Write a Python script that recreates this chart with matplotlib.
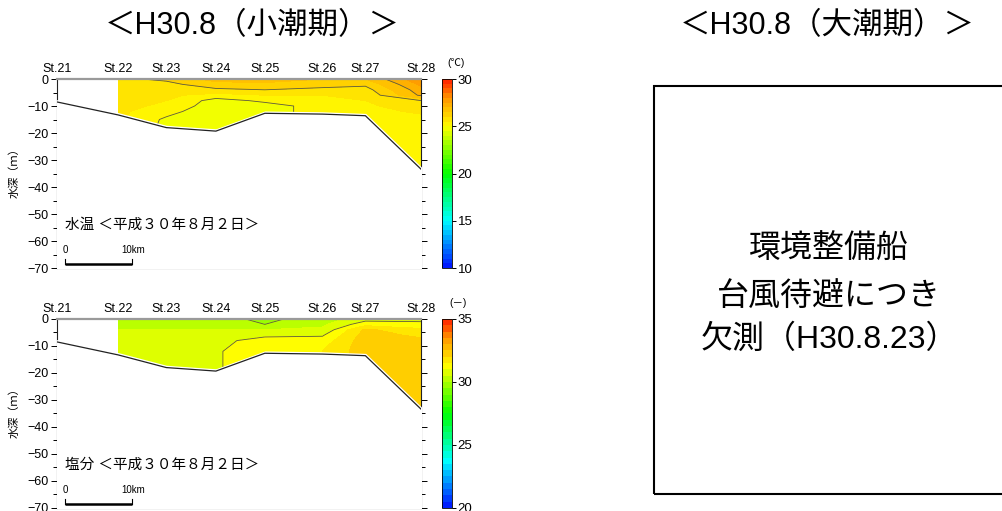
import numpy as np
import matplotlib.pyplot as plt
from matplotlib.colors import LinearSegmentedColormap
from matplotlib.patches import Rectangle

plt.rcParams['font.family'] = ['Liberation Sans', 'Noto Sans CJK JP']

# -----------------------------
# data
# -----------------------------
stations = ["St.21", "St.22", "St.23", "St.24", "St.25", "St.26", "St.27", "St.28"]
dist_km = [0.0, 9.1, 16.3, 23.7, 31.0, 39.6, 46.0, 54.3]
seabed_m = [-8.5, -13.3, -18.0, -19.3, -12.7, -13.0, -13.6, -33.4]

# observed profiles: St.22 .. St.28 (St.21 not sampled)
prof_km = dist_km[1:]
depth_m = [0, -2, -4, -6, -8, -10, -12, -15, -20, -25, -30, -35]

# water temperature (deg C), top -> bottom
temp_st22 = [25.9, 25.9, 25.85, 25.8, 25.7, 25.65, 25.6, 25.6, 25.6, 25.6, 25.6, 25.6]
temp_st23 = [26.1, 25.85, 25.7, 25.6, 25.5, 25.4, 25.2, 24.9, 24.8, 24.8, 24.8, 24.8]
temp_st24 = [26.7, 26.3, 25.9, 25.3, 24.8, 24.7, 24.6, 24.6, 24.6, 24.6, 24.6, 24.6]
temp_st25 = [26.7, 26.4, 26.0, 25.5, 25.1, 24.8, 24.8, 24.8, 24.8, 24.8, 24.8, 24.8]
temp_st26 = [26.5, 26.3, 25.8, 25.5, 25.3, 25.2, 25.2, 25.2, 25.2, 25.2, 25.2, 25.2]
temp_st27 = [26.5, 26.1, 25.8, 25.6, 25.5, 25.4, 25.3, 25.2, 25.2, 25.2, 25.2, 25.2]
temp_st28 = [27.9, 27.6, 27.3, 27.1, 26.0, 25.8, 25.6, 25.3, 25.2, 25.2, 25.2, 25.2]

# salinity, top -> bottom
sal_st22 = [30.2, 30.3, 30.5, 30.6, 30.65, 30.7, 30.7, 30.7, 30.7, 30.7, 30.7, 30.7]
sal_st23 = [30.2, 30.3, 30.5, 30.6, 30.7, 30.75, 30.8, 30.85, 30.85, 30.85, 30.85, 30.85]
sal_st24 = [30.15, 30.3, 30.5, 30.7, 30.85, 30.9, 30.95, 30.95, 30.95, 30.95, 30.95, 30.95]
sal_st25 = [29.9, 30.0, 30.5, 30.9, 31.2, 31.25, 31.3, 31.3, 31.3, 31.3, 31.3, 31.3]
sal_st26 = [30.2, 30.4, 30.6, 30.95, 31.2, 31.4, 31.5, 31.5, 31.5, 31.5, 31.5, 31.5]
sal_st27 = [30.8, 31.3, 32.1, 32.2, 32.3, 32.3, 32.3, 32.3, 32.3, 32.3, 32.3, 32.3]
sal_st28 = [30.8, 31.2, 31.6, 31.9, 32.1, 32.2, 32.2, 32.2, 32.2, 32.2, 32.2, 32.2]

temp = np.array([temp_st22, temp_st23, temp_st24, temp_st25,
                 temp_st26, temp_st27, temp_st28]).T
sal = np.array([sal_st22, sal_st23, sal_st24, sal_st25,
                sal_st26, sal_st27, sal_st28]).T

cmap = LinearSegmentedColormap.from_list(
    "sect",
    [(0.0, "#0010ff"), (0.25, "#00ffff"), (0.5, "#00ff00"),
     (0.75, "#ffff00"), (0.9, "#ff9600"), (1.0, "#ff1e00")])


def draw_section(ax, cax, field, vmin, vmax, line_levels, cticks, unit, unit_xy, label):
    X, Y = np.meshgrid(prof_km, depth_m)
    levels = np.arange(vmin, vmax + 0.01, 0.5)
    cf = ax.contourf(X, Y, field, levels=levels, cmap=cmap, vmin=vmin, vmax=vmax)
    ax.contour(X, Y, field, levels=line_levels, colors="#5a5a40", linewidths=0.6)

    # mask below the seabed, then the seabed line
    ax.fill_between(dist_km, np.array(seabed_m) + 0.6, -75, color="white", zorder=3)
    ax.plot(dist_km, seabed_m, color="#222222", lw=0.9, zorder=4)

    ax.set_xlim(dist_km[0], dist_km[-1])
    ax.set_ylim(-70, 0)
    ax.xaxis.tick_top()
    ax.set_xticks(dist_km)
    ax.set_xticklabels(stations, fontsize=9)
    ax.tick_params(axis="x", length=0, pad=3)
    ax.set_yticks(np.arange(-70, 1, 10))
    ax.set_yticklabels([f"{v}".replace("-", "\u2212") for v in range(-70, 1, 10)], fontsize=9)
    ax.set_yticks(np.arange(-65, 0, 10), minor=True)
    ax.tick_params(axis="y", which="major", length=4, width=0.7, direction="out", pad=2)
    ax.tick_params(axis="y", which="minor", length=3, width=0.7, direction="out",
                   right=True)
    ax.tick_params(axis="y", which="major", right=True)
    for s in ("left", "right", "bottom"):
        ax.spines[s].set_linewidth(0.8)
        ax.spines[s].set_color("#222222")
    ax.spines["top"].set_color("#9a9a9a")
    ax.spines["top"].set_linewidth(1.6)
    ax.set_ylabel("水深（ｍ）", fontsize=8)
    ax.yaxis.set_label_coords(-0.102, 0.52)

    ax.text(1.2, -54, label, fontsize=10.5, ha="left", va="center", zorder=5)
    # 10 km scale bar
    ax.plot([1.2, 11.2], [-68.6, -68.6], color="black", lw=1.8, zorder=5,
            solid_capstyle="butt", clip_on=False)
    ax.plot([1.2, 1.2], [-68.6, -66.8], color="black", lw=0.8, zorder=5)
    ax.plot([11.2, 11.2], [-68.6, -66.8], color="black", lw=0.8, zorder=5)
    ax.text(1.2, -63.3, "0", fontsize=7, ha="center", va="center", zorder=5)
    ax.text(11.3, -63.3, "10km", fontsize=7, ha="center", va="center", zorder=5)

    cb = fig.colorbar(cf, cax=cax, ticks=cticks)
    cb.outline.set_linewidth(0.6)
    cb.ax.tick_params(labelsize=9.5, length=3, width=0.7, pad=1)
    cb.ax.set_yticklabels([str(t) for t in cticks])
    fig.text(unit_xy[0] / 1002, 1 - unit_xy[1] / 511, unit, fontsize=7.5,
             ha="center", va="center")


fig = plt.figure(figsize=(10.02, 5.11), dpi=100)

ax1 = fig.add_axes([0.0569, 0.4755, 0.3633, 0.3699])
cax1 = fig.add_axes([0.4411, 0.4755, 0.0100, 0.3699])
ax2 = fig.add_axes([0.0569, 0.0059, 0.3633, 0.3699])
cax2 = fig.add_axes([0.4411, 0.0059, 0.0100, 0.3699])

draw_section(ax1, cax1, temp, 10, 30, [25, 26, 27], [10, 15, 20, 25, 30],
             "(℃)", (456, 63), "水温 ＜平成３０年８月２日＞")
draw_section(ax2, cax2, sal, 20, 35, [30, 31], [20, 25, 30, 35],
             "(－)", (458, 303), "塩分 ＜平成３０年８月２日＞")

fig.text(252 / 1002, 1 - 26 / 511, "＜H30.8（小潮期）＞", fontsize=22,
         ha="center", va="center")
fig.text(827 / 1002, 1 - 26 / 511, "＜H30.8（大潮期）＞", fontsize=22,
         ha="center", va="center")

# right panel: no observation
fig.patches.append(Rectangle((654 / 1002, 1 - 494 / 511), 0.40, (494 - 86) / 511,
                             transform=fig.transFigure, fill=False,
                             edgecolor="black", lw=1.5))
for txt, ypx in [("環境整備船", 250), ("台風待避につき", 297), ("欠測（H30.8.23）", 340)]:
    fig.text(829 / 1002, 1 - ypx / 511, txt, fontsize=23, ha="center", va="center")

fig.savefig("out.png", dpi=100)
